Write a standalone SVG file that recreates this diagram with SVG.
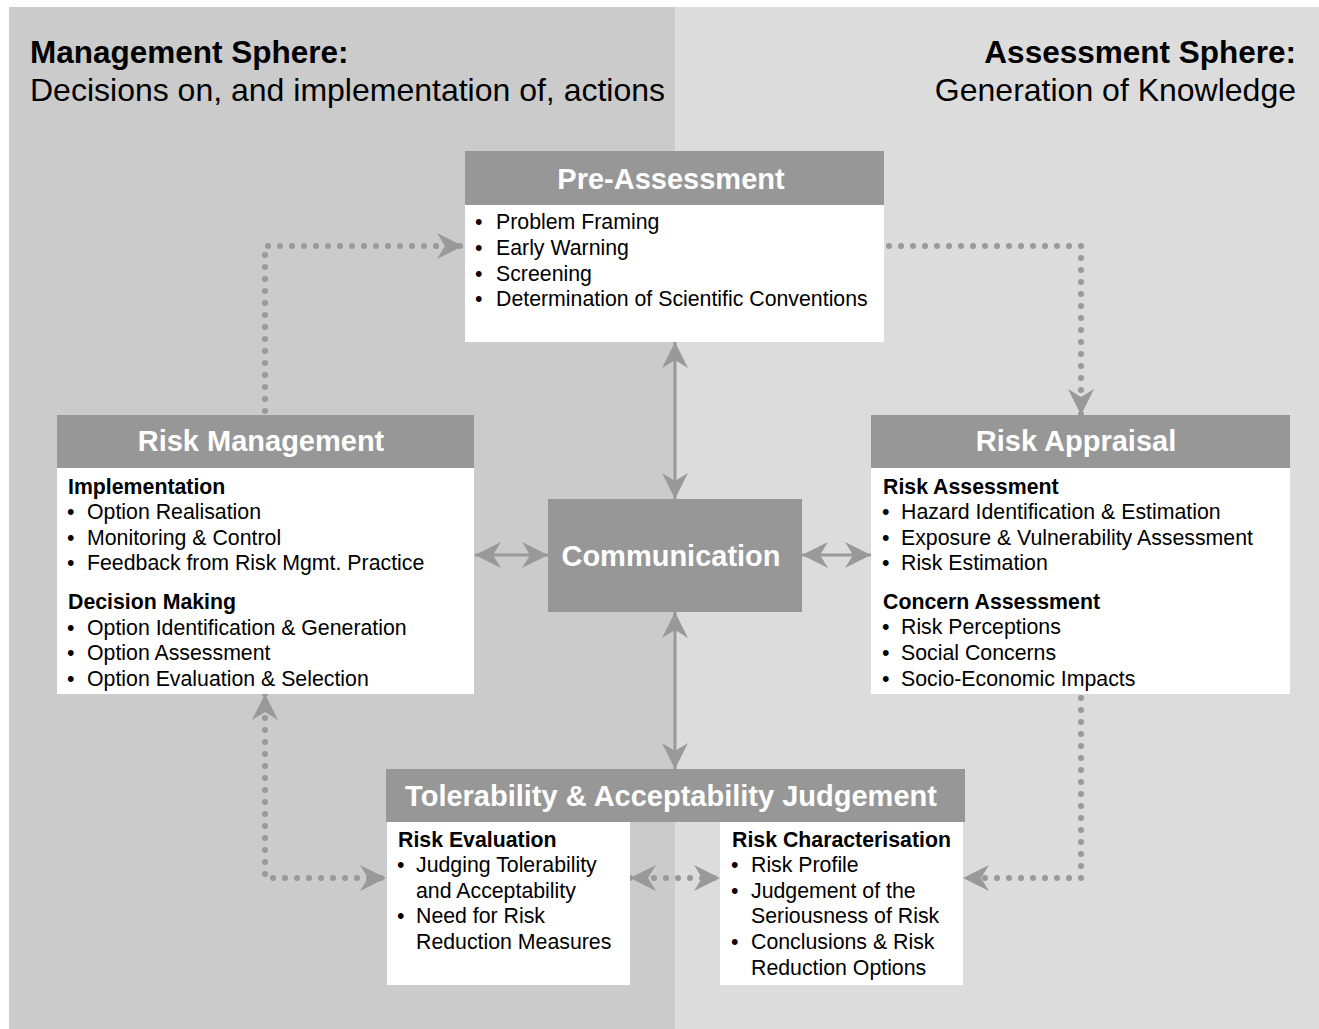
<svg xmlns="http://www.w3.org/2000/svg" width="1319" height="1029" viewBox="0 0 1319 1029">
<defs>
<style>
text{font-family:"Liberation Sans",Arial,sans-serif;fill:#000}
.title{font-size:31.5px;font-weight:bold}
.sub{font-size:32px}
.hd{fill:#979797}
.body{fill:#fff}
.ht{font-size:29px;font-weight:bold;fill:#fff;text-anchor:middle}
.t{font-size:21.3px}
.b{font-size:21.3px;font-weight:bold}
.solid{stroke:#999;stroke-width:3;fill:none}
.dot{stroke:#999;stroke-width:6;fill:none;stroke-dasharray:0 12;stroke-linecap:round;stroke-linejoin:round}
</style>
<marker id="ah" viewBox="0 0 26 26" refX="26" refY="13" markerWidth="26" markerHeight="26" markerUnits="userSpaceOnUse" orient="auto-start-reverse">
<path d="M26,13 L0,0 L8,13 L0,26 Z" fill="#999"/>
</marker>
</defs>
<rect x="0" y="0" width="1319" height="1029" fill="#fff"/>
<rect x="9" y="7" width="666" height="1022" fill="#cbcbcb"/>
<rect x="675" y="7" width="644" height="1022" fill="#dcdcdc"/>

<g id="sphere-titles">
<text class="title" x="30" y="63">Management Sphere:</text>
<text class="sub" x="30" y="101">Decisions on, and implementation of, actions</text>
<text class="title" x="1296" y="63" text-anchor="end">Assessment Sphere:</text>
<text class="sub" x="1296" y="101" text-anchor="end">Generation of Knowledge</text>
</g>

<g id="connectors">
<line class="solid" x1="675" y1="342" x2="675" y2="499" marker-start="url(#ah)" marker-end="url(#ah)"/>
<line class="solid" x1="675" y1="612" x2="675" y2="769" marker-start="url(#ah)" marker-end="url(#ah)"/>
<line class="solid" x1="475" y1="555" x2="548" y2="555" marker-start="url(#ah)" marker-end="url(#ah)"/>
<line class="solid" x1="802" y1="555" x2="871" y2="555" marker-start="url(#ah)" marker-end="url(#ah)"/>
<path class="dot" d="M265,411 L265,246 L463,246" marker-end="url(#ah)"/>
<path class="dot" d="M889,246 L1081,246 L1081,415" marker-end="url(#ah)"/>
<path class="dot" d="M1081,698 L1081,878 L963,878" marker-end="url(#ah)"/>
<path class="dot" d="M265,694 L265,878 L386,878" marker-start="url(#ah)" marker-end="url(#ah)"/>
<path class="dot" d="M630,878 L720,878" marker-start="url(#ah)" marker-end="url(#ah)"/>
</g>

<g id="pre-assessment">
<rect class="hd" x="465" y="151" width="419" height="54"/>
<rect class="body" x="465" y="205" width="419" height="137"/>
<text class="ht" x="671" y="189">Pre-Assessment</text>
<text class="t" x="475" y="229">•</text><text class="t" x="496" y="229">Problem Framing</text>
<text class="t" x="475" y="255">•</text><text class="t" x="496" y="255">Early Warning</text>
<text class="t" x="475" y="281">•</text><text class="t" x="496" y="281">Screening</text>
<text class="t" x="475" y="306">•</text><text class="t" x="496" y="306">Determination of Scientific Conventions</text>
</g>

<g id="risk-management">
<rect class="hd" x="57" y="415" width="417" height="53"/>
<rect class="body" x="57" y="468" width="417" height="226"/>
<text class="ht" x="261" y="451">Risk Management</text>
<text class="b" x="68" y="494">Implementation</text>
<text class="t" x="67" y="519">•</text><text class="t" x="87" y="519">Option Realisation</text>
<text class="t" x="67" y="545">•</text><text class="t" x="87" y="545">Monitoring &amp; Control</text>
<text class="t" x="67" y="570">•</text><text class="t" x="87" y="570">Feedback from Risk Mgmt. Practice</text>
<text class="b" x="68" y="609">Decision Making</text>
<text class="t" x="67" y="635">•</text><text class="t" x="87" y="635">Option Identification &amp; Generation</text>
<text class="t" x="67" y="660">•</text><text class="t" x="87" y="660">Option Assessment</text>
<text class="t" x="67" y="686">•</text><text class="t" x="87" y="686">Option Evaluation &amp; Selection</text>
</g>

<g id="risk-appraisal">
<rect class="hd" x="871" y="415" width="419" height="53"/>
<rect class="body" x="871" y="468" width="419" height="226"/>
<text class="ht" x="1076" y="451">Risk Appraisal</text>
<text class="b" x="883" y="494">Risk Assessment</text>
<text class="t" x="882" y="519">•</text><text class="t" x="901" y="519">Hazard Identification &amp; Estimation</text>
<text class="t" x="882" y="545">•</text><text class="t" x="901" y="545">Exposure &amp; Vulnerability Assessment</text>
<text class="t" x="882" y="570">•</text><text class="t" x="901" y="570">Risk Estimation</text>
<text class="b" x="883" y="609">Concern Assessment</text>
<text class="t" x="882" y="634">•</text><text class="t" x="901" y="634">Risk Perceptions</text>
<text class="t" x="882" y="660">•</text><text class="t" x="901" y="660">Social Concerns</text>
<text class="t" x="882" y="686">•</text><text class="t" x="901" y="686">Socio-Economic Impacts</text>
</g>

<g id="communication">
<rect class="hd" x="548" y="499" width="254" height="113"/>
<text class="ht" x="671" y="566">Communication</text>
</g>

<g id="tolerability">
<rect class="hd" x="386" y="769" width="579" height="53"/>
<text class="ht" x="671" y="806">Tolerability &amp; Acceptability Judgement</text>
<rect class="body" x="387" y="822" width="243" height="163"/>
<text class="b" x="398" y="847">Risk Evaluation</text>
<text class="t" x="397" y="872">•</text><text class="t" x="416" y="872">Judging Tolerability</text>
<text class="t" x="416" y="898">and Acceptability</text>
<text class="t" x="397" y="923">•</text><text class="t" x="416" y="923">Need for Risk</text>
<text class="t" x="416" y="949">Reduction Measures</text>
<rect class="body" x="720" y="822" width="243" height="163"/>
<text class="b" x="732" y="847">Risk Characterisation</text>
<text class="t" x="731" y="872">•</text><text class="t" x="751" y="872">Risk Profile</text>
<text class="t" x="731" y="898">•</text><text class="t" x="751" y="898">Judgement of the</text>
<text class="t" x="751" y="923">Seriousness of Risk</text>
<text class="t" x="731" y="949">•</text><text class="t" x="751" y="949">Conclusions &amp; Risk</text>
<text class="t" x="751" y="975">Reduction Options</text>
</g>
</svg>
